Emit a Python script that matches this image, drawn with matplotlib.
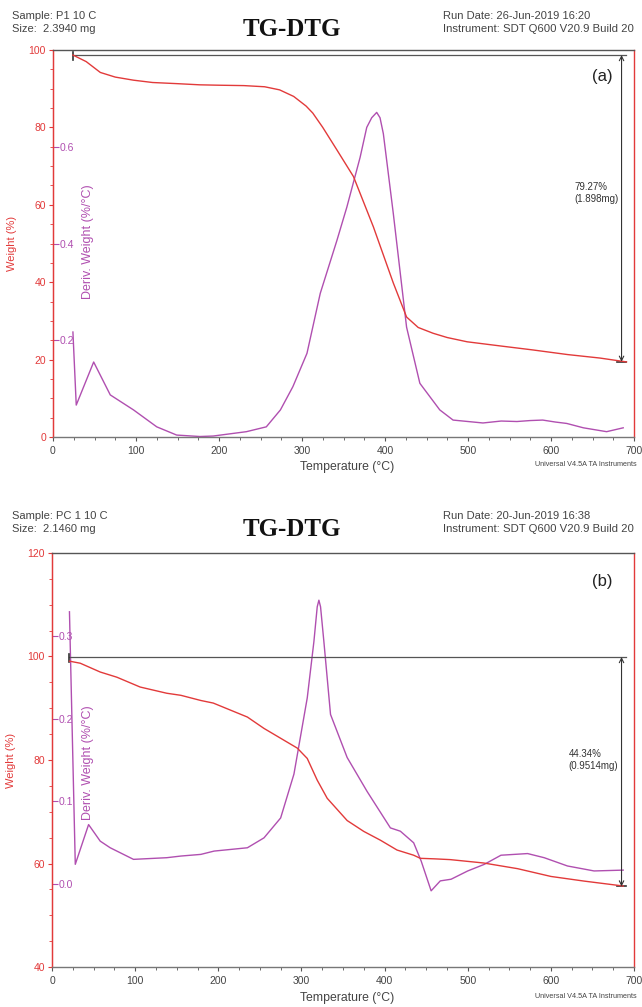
import matplotlib.pyplot as plt

plt.rcParams['font.family'] = ['Liberation Sans', 'DejaVu Sans']

RED = '#e23a3a'
PURPLE = '#b04fb0'
GREY = '#444444'

# ---- panel (a) data ----
temp_tg_a = [24, 40, 57, 75, 97, 120, 150, 177, 200, 230, 255, 273, 290, 305, 313,
             325, 342, 362, 386, 410, 426, 440, 458, 475, 499, 540, 578, 620, 659, 691]
weight_a = [98.7, 97.0, 94.2, 93.0, 92.2, 91.6, 91.3, 91.0, 90.9, 90.8, 90.5, 89.7, 88.0,
            85.5, 83.7, 80.0, 74.2, 67.3, 54.3, 39.8, 31.0, 28.3, 26.8, 25.7, 24.6, 23.5,
            22.5, 21.3, 20.4, 19.4]
temp_dtg_a = [24, 28, 49, 69, 97, 125, 149, 177, 193, 233, 257, 274, 289, 306, 322, 342,
              354, 370, 378, 384, 390, 394, 398, 410, 426, 442, 466, 482, 518, 540, 559,
              575, 590, 605, 619, 639, 667, 687]
deriv_a = [0.217, 0.066, 0.155, 0.087, 0.056, 0.021, 0.004, 0.001, 0.002, 0.011, 0.021,
           0.056, 0.104, 0.173, 0.297, 0.406, 0.475, 0.578, 0.640, 0.660, 0.671, 0.660,
           0.627, 0.462, 0.227, 0.111, 0.056, 0.035, 0.029, 0.033, 0.032, 0.034, 0.035,
           0.031, 0.028, 0.019, 0.011, 0.019]

# ---- panel (b) data ----
temp_tg_b = [21, 34, 58, 78, 106, 138, 155, 179, 194, 235, 255, 275, 295, 307, 319, 331,
             355, 375, 395, 415, 435, 443, 460, 479, 519, 560, 600, 640, 687]
weight_b = [99.1, 98.7, 97.0, 96.0, 94.1, 92.9, 92.5, 91.5, 91.0, 88.3, 86.1, 84.2, 82.3,
            80.3, 76.1, 72.6, 68.3, 66.2, 64.5, 62.6, 61.6, 61.0, 60.9, 60.75, 60.1, 59.0,
            57.5, 56.6, 55.65]
temp_dtg_b = [21, 28, 44, 58, 70, 98, 138, 155, 179, 195, 235, 255, 275, 291, 307, 315,
              319, 321, 323, 327, 335, 355, 379, 407, 419, 435, 444, 456, 467, 480, 500,
              520, 540, 572, 592, 620, 652, 687]
deriv_b = [0.329, 0.024, 0.072, 0.052, 0.044, 0.030, 0.032, 0.034, 0.036, 0.040, 0.044,
           0.056, 0.080, 0.133, 0.225, 0.293, 0.335, 0.343, 0.335, 0.293, 0.205, 0.153,
           0.112, 0.068, 0.064, 0.050, 0.028, -0.008, 0.004, 0.006, 0.016, 0.024, 0.035,
           0.037, 0.032, 0.022, 0.016, 0.017]

# step annotations: start T, end T, top weight, loss %, label
step_a = dict(t0=24, t1=690, top=98.7, loss=79.27, text='79.27%\n(1.898mg)')
step_b = dict(t0=21, t1=690, top=99.9, loss=44.34, text='44.34%\n(0.9514mg)')

fig = plt.figure(figsize=(6.42, 10.07), dpi=100)
W, H = 642, 1007


def px_rect(left, top, right, bottom):
    return [left / W, 1 - bottom / H, (right - left) / W, (bottom - top) / H]


def draw_panel(rect, tt, ww, td, dd, ylim, yticks, dlim, dticks, step, step_dx, tag,
               dlabel_xy, header_y, sample, size, run, xlabel_y):
    ax = fig.add_axes(px_rect(*rect))
    ax.plot(tt, ww, color=RED, lw=1.0, zorder=3)
    ax.set_xlim(0, 700)
    ax.set_ylim(*ylim)
    ax.set_xticks(range(0, 701, 100))
    ax.set_xticks(range(0, 701, 25), minor=True)
    ax.set_yticks(yticks)
    ax.set_yticks(range(ylim[0], ylim[1] + 1, 5), minor=True)
    ax.tick_params(axis='x', which='both', colors='#555555', labelsize=7.5, length=3)
    ax.tick_params(axis='x', which='minor', length=2)
    ax.tick_params(axis='x', labelcolor=GREY)
    ax.tick_params(axis='y', which='both', colors=RED, labelsize=7.5, length=3, pad=2)
    ax.tick_params(axis='y', which='minor', length=2)
    ax.spines['left'].set_color(RED)
    ax.spines['right'].set_color(RED)
    ax.spines['top'].set_color('#555555')
    ax.spines['bottom'].set_color('#777777')
    for s in ax.spines.values():
        s.set_linewidth(1.0)
    ax.set_ylabel('Weight (%)', color=RED, fontsize=8)
    ax.yaxis.set_label_coords(-0.062, 0.5)

    # step change annotation
    bot = step['top'] - step['loss']
    ax.plot([step['t0'], step['t1']], [step['top'], step['top']], color='#555555', lw=0.9)
    span = ylim[1] - ylim[0]
    ax.plot([step['t0'], step['t0']], [step['top'] - span * 0.012, step['top'] + span * 0.008],
            color='#333333', lw=1.2)
    tx = step['t1'] - 5
    ax.annotate('', xy=(tx, bot), xytext=(tx, step['top']),
                arrowprops=dict(arrowstyle='<->', color='#333333', lw=0.8,
                                shrinkA=0, shrinkB=0, mutation_scale=8))
    ax.plot([tx - 6, step['t1']], [bot, bot], color='#333333', lw=1.2)
    ax.text(tx - step_dx, step['top'] - step['loss'] * 0.45, step['text'], fontsize=7,
            color='#333333', va='center', ha='left', linespacing=1.3)
    ax.text(0.945, 0.95, tag, transform=ax.transAxes, fontsize=12, ha='center',
            va='top', color='#222222')

    ax2 = ax.twinx()
    ax2.plot(td, dd, color=PURPLE, lw=1.0, zorder=3)
    ax2.set_ylim(*dlim)
    ax2.set_yticks(dticks)
    ax2.set_yticklabels([f'{v:.1f}' for v in dticks])
    ax2.spines['right'].set_position(('axes', 0))
    ax2.spines['right'].set_color(RED)
    ax2.spines['top'].set_visible(False)
    ax2.spines['bottom'].set_visible(False)
    ax2.spines['left'].set_visible(False)
    ax2.tick_params(axis='y', colors=PURPLE, labelsize=7.5, length=4, pad=1)
    ax2.text(dlabel_xy[0], dlabel_xy[1], 'Deriv. Weight (%/°C)', transform=ax.transAxes,
             rotation=90, color=PURPLE, fontsize=9, ha='center', va='center')
    ax.set_zorder(ax2.get_zorder() + 1)
    ax.patch.set_visible(False)

    # header texts
    fig.text(12 / W, 1 - header_y / H, sample, fontsize=8, color=GREY, va='center')
    fig.text(12 / W, 1 - (header_y + 13) / H, size, fontsize=8, color=GREY, va='center')
    fig.text(292 / W, 1 - (header_y + 13) / H, 'TG-DTG', fontsize=18, weight='bold',
             family='Liberation Serif', ha='center', va='center', color='#111111')
    fig.text(443 / W, 1 - header_y / H, run, fontsize=8, color=GREY, va='center')
    fig.text(443 / W, 1 - (header_y + 13) / H, 'Instrument: SDT Q600 V20.9 Build 20',
             fontsize=8.2, color=GREY, va='center')
    fig.text(347 / W, 1 - xlabel_y / H, 'Temperature (°C)', fontsize=8.8, color=GREY,
             ha='center', va='center')
    fig.text(637 / W, 1 - (xlabel_y - 2) / H, 'Universal V4.5A TA Instruments',
             fontsize=5.2, color=GREY, ha='right', va='center')
    return ax


draw_panel((53, 50, 634, 437), temp_tg_a, weight_a, temp_dtg_a, deriv_a,
           (0, 100), range(0, 101, 20), (0, 0.8), [0.2, 0.4, 0.6],
           step_a, 57, '(a)', (0.060, 0.504), 16,
           'Sample: P1 10 C', 'Size:  2.3940 mg', 'Run Date: 26-Jun-2019 16:20', 467)

draw_panel((52, 553, 634, 967), temp_tg_b, weight_b, temp_dtg_b, deriv_b,
           (40, 120), range(40, 121, 20), (-0.1, 0.4), [0.0, 0.1, 0.2, 0.3],
           step_b, 64, '(b)', (0.062, 0.494), 516,
           'Sample: PC 1 10 C', 'Size:  2.1460 mg', 'Run Date: 20-Jun-2019 16:38', 998)

fig.savefig('out.png', dpi=100, facecolor='white')
